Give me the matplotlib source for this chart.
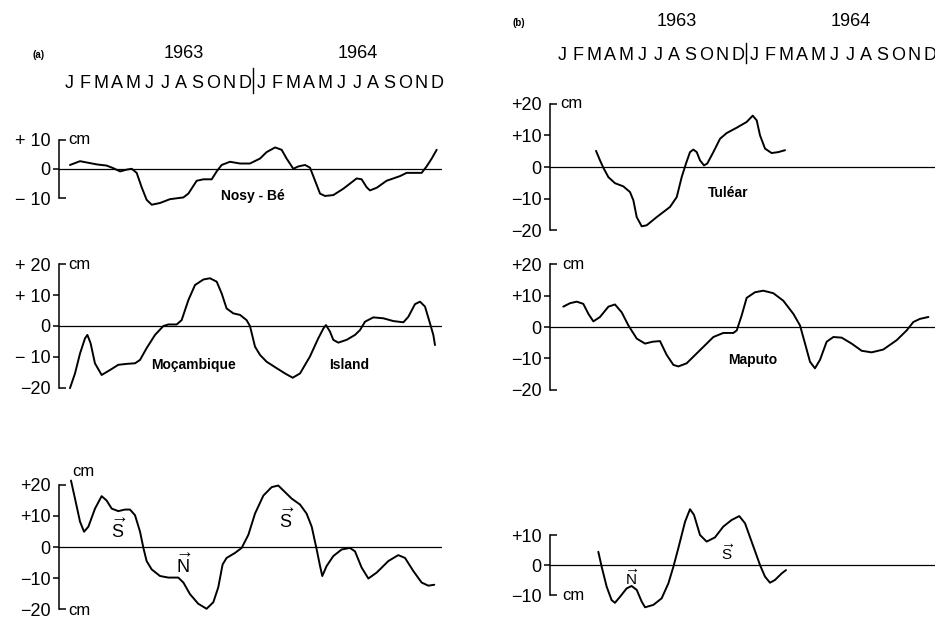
import matplotlib
matplotlib.use("Agg")
import matplotlib.pyplot as plt
from matplotlib.transforms import blended_transform_factory

plt.rcParams['font.family'] = ['Liberation Sans', 'DejaVu Sans']
plt.rcParams['mathtext.fontset'] = 'custom'
plt.rcParams['mathtext.rm'] = 'Liberation Sans'

W, H = 935, 621
PX = 16  # pixels per month on the page

months = ['J', 'F', 'M', 'A', 'M', 'J', 'J', 'A', 'S', 'O', 'N', 'D'] * 2
years = ['1963', '1964']

# time in months since mid Jan 1963, sea level anomaly in cm

# (a) Nosy-Be
nosy_t = [0.06, 0.69, 1.73, 2.35, 2.77, 3.19, 3.6, 3.92, 4.23, 4.54, 4.85, 5.17, 5.69, 6.31,
          7.15, 7.46, 7.98, 8.4, 8.92, 9.23, 9.54, 10.06, 10.69, 11.31, 11.94, 12.35, 12.88,
          13.29, 13.6, 14.02, 14.33, 14.75, 15.06, 15.38, 15.69, 16.0, 16.52, 17.15, 17.98,
          18.29, 18.6, 18.81, 19.23, 19.85, 20.69, 21.1, 21.73, 22.04, 22.35, 22.67, 22.98]
nosy_cm = [1.3, 2.6, 1.5, 1.1, 0.2, -0.9, -0.3, 0.0, -1.4, -6.3, -10.6, -12.3, -11.7, -10.4,
           -9.8, -8.5, -4.1, -3.6, -3.6, -0.9, 1.3, 2.4, 1.8, 1.8, 3.5, 5.7, 7.3,
           6.5, 3.5, 0.0, 0.8, 1.3, 0.4, -4.1, -8.5, -9.3, -9.0, -6.8, -3.3,
           -3.6, -6.3, -7.4, -6.5, -4.1, -2.5, -1.4, -1.4, -1.4, 0.8, 3.5, 6.5]

# (a) Mocambique Island
moz_t = [0.06, 0.375, 0.69, 1.0, 1.15, 1.35, 1.62, 2.04, 2.56, 3.08, 3.6, 4.13, 4.44, 4.85,
         5.375, 5.9, 6.21, 6.73, 7.04, 7.46, 7.875, 8.4, 8.81, 9.23, 9.54, 9.85, 10.27, 10.69,
         11.1, 11.31, 11.625, 11.94, 12.35, 12.98, 13.5, 13.98, 14.44, 15.06, 15.58, 15.9,
         16.06, 16.31, 16.52, 16.83, 17.35, 17.875, 18.19, 18.5, 19.02, 19.65, 20.27, 20.9,
         21.21, 21.625, 21.94, 22.25, 22.56, 22.77, 22.875]
moz_cm = [-20.2, -15.4, -8.9, -4.0, -2.9, -5.6, -12.1, -15.9, -14.3, -12.6, -12.3, -12.1, -11.0, -7.2,
          -2.9, 0.0, 0.5, 0.5, 1.9, 8.4, 13.3, 15.1, 15.5, 14.4, 10.6, 5.7, 4.1, 3.6,
          1.9, 0.0, -6.7, -9.4, -11.6, -13.7, -15.4, -16.8, -15.4, -9.9, -4.0, -0.8,
          0.3, -1.8, -4.5, -5.4, -4.5, -2.9, -1.3, 1.4, 2.8, 2.5, 1.6, 1.2,
          3.0, 7.1, 7.9, 6.3, 0.9, -2.9, -6.2]

# (a) difference
diff_a_t = [0.125, 0.375, 0.69, 0.94, 1.21, 1.625, 2.04, 2.35, 2.67, 3.08, 3.5, 3.81, 4.125, 4.44,
            4.65, 4.85, 5.17, 5.69, 6.21, 6.83, 7.15, 7.56, 8.08, 8.6, 9.02, 9.33, 9.6, 9.85,
            10.375, 10.79, 11.21, 11.625, 12.15, 12.67, 13.08, 13.5, 13.92, 14.44, 14.85, 15.17,
            15.48, 15.69, 15.83, 16.1, 16.52, 17.04, 17.56, 17.875, 18.29, 18.71, 19.23, 19.96,
            20.58, 21.0, 21.52, 22.04, 22.46, 22.83]
diff_a_cm = [21.3, 15.5, 8.1, 4.9, 6.5, 12.3, 16.3, 14.9, 12.3, 11.5, 12.0, 12.0, 10.2, 4.9,
             -0.3, -4.5, -7.2, -9.3, -9.8, -9.8, -11.4, -15.1, -18.2, -19.8, -17.7, -12.9, -5.6, -3.5,
             -1.9, -0.3, 3.9, 10.7, 16.5, 19.2, 19.7, 17.6, 15.5, 13.6, 10.7, 6.5,
             -0.8, -6.1, -9.3, -6.1, -2.9, -0.8, -0.3, -1.4, -6.6, -10.1, -8.2, -4.5,
             -2.6, -3.5, -7.7, -11.4, -12.4, -12.1]

# (b) Tulear
tul_t = [2.125, 2.375, 2.58, 2.9, 3.31, 3.83, 4.25, 4.46, 4.67, 4.98, 5.29, 5.92, 6.75, 7.17,
         7.48, 7.75, 8.0, 8.21, 8.42, 8.625, 8.875, 9.08, 9.46, 9.875, 10.29, 10.92, 11.54,
         11.92, 12.17, 12.375, 12.69, 13.1, 13.52, 13.94]
tul_cm = [5.1, 2.1, -0.2, -3.2, -5.1, -6.1, -7.9, -10.5, -15.8, -18.7, -18.4, -15.8, -12.6, -9.5,
          -3.2, 1.1, 4.7, 5.5, 4.7, 2.1, 0.5, 1.1, 4.7, 8.9, 10.7, 12.4, 14.2,
          16.2, 14.7, 10.0, 5.8, 4.4, 4.7, 5.3]

# (b) Maputo
map_t = [0.08, 0.5, 0.92, 1.33, 1.65, 1.96, 2.375, 2.9, 3.31, 3.73, 4.15, 4.67, 5.19, 5.67,
         6.125, 6.54, 6.96, 7.27, 7.79, 8.625, 9.46, 10.08, 10.71, 10.92, 11.23, 11.54, 12.06,
         12.58, 13.21, 13.83, 14.46, 14.875, 15.19, 15.5, 15.81, 16.125, 16.54, 16.96, 17.48,
         18.1, 18.73, 19.35, 20.08, 20.92, 21.54, 21.96, 22.375, 22.9]
map_cm = [6.5, 7.6, 8.1, 7.4, 4.2, 1.8, 3.2, 6.5, 7.2, 4.7, 0.5, -3.7, -5.3, -4.7,
          -4.5, -8.9, -12.1, -12.6, -11.6, -7.4, -3.2, -1.9, -1.9, -1.1, 3.7, 9.3, 11.1,
          11.6, 10.8, 8.4, 4.2, 0.5, -5.3, -11.1, -13.2, -10.5, -4.7, -3.2, -3.4,
          -5.3, -7.6, -8.1, -7.2, -4.2, -1.1, 1.6, 2.6, 3.2]

# (b) difference
diff_b_t = [2.27, 2.48, 2.79, 3.1, 3.31, 3.625, 4.04, 4.35, 4.67, 4.98, 5.19, 5.71, 6.23, 6.65,
            6.96, 7.27, 7.69, 8.0, 8.25, 8.625, 9.04, 9.56, 10.08, 10.6, 11.08, 11.44, 11.85,
            12.375, 12.69, 13.0, 13.31, 13.73, 14.0]
diff_b_cm = [4.4, -0.6, -7.2, -11.7, -12.6, -10.6, -7.8, -7.0, -8.3, -12.2, -14.1, -13.3, -11.1, -6.1,
             -0.6, 5.6, 14.4, 18.6, 16.7, 10.0, 7.8, 9.2, 12.8, 15.0, 16.3, 13.9, 7.8,
             0.0, -3.9, -5.9, -5.0, -2.8, -1.7]

fig = plt.figure(figsize=(W / 100, H / 100), dpi=100)
fig.patch.set_facecolor('white')


def panel(col, y0, ppc, ylo, yhi, xhi=23.3):
    # page layout: month centre of Jan 1963 at x0, y0 = pixel row of the zero line
    x0 = 69 if col == 0 else 562
    xlo = -0.625 if col == 0 else -0.75
    left = x0 + xlo * PX
    bottom = y0 - ylo * ppc
    ax = fig.add_axes([left / W, 1 - bottom / H, (xhi - xlo) * PX / W, (yhi - ylo) * ppc / H])
    ax.set_xlim(xlo, xhi)
    ax.set_ylim(ylo, yhi)
    ax.patch.set_alpha(0)
    for s in ['top', 'right', 'bottom']:
        ax.spines[s].set_visible(False)
    ax.set_xticks([])
    ax.axhline(0, color='k', lw=0.9)
    return ax


def yaxis(ax, mids, mid_labels, ends, end_labels):
    ax.spines['left'].set_bounds(min(ends), max(ends))
    ax.spines['left'].set_linewidth(1.1)
    ax.set_yticks(mids, mid_labels)
    ax.set_yticks(ends, end_labels, minor=True)
    ax.tick_params(axis='y', which='major', direction='out', length=4, width=1.1, pad=2, labelsize=13)
    ax.tick_params(axis='y', which='minor', direction='in', length=5, width=1.1, pad=6, labelsize=13)


def curve(ax, t, v):
    ax.plot(t, v, color='k', lw=1.4, solid_joinstyle='round', solid_capstyle='round', clip_on=False)


# ---- column (a)
a1 = panel(0, 167, 3.05, -14, 9)
yaxis(a1, [0], ['0'], [10, -10], ['+ 10', '\u2212 10'])
curve(a1, nosy_t, nosy_cm)
a1.text(-0.06, 10, 'cm', fontsize=12, va='center', ha='left')
a1.text(11.5, -9.2, 'Nosy - B\u00e9', fontsize=10, fontweight='bold', ha='center', va='center')

a2 = panel(0, 326, 3.08, -22, 20)
yaxis(a2, [10, 0, -10], ['+ 10', '0', '\u2212 10'], [20, -20], ['+ 20', '\u221220'])
curve(a2, moz_t, moz_cm)
a2.text(-0.06, 20, 'cm', fontsize=12, va='center', ha='left')
a2.text(7.8, -12.7, 'Mo\u00e7ambique', fontsize=10, fontweight='bold', ha='center', va='center')
a2.text(17.5, -12.7, 'Island', fontsize=10, fontweight='bold', ha='center', va='center')

a3 = panel(0, 547, 3.12, -22, 25)
yaxis(a3, [10, 0, -10], ['+10', '0', '\u221210'], [20, -20], ['+20', '\u221220'])
curve(a3, diff_a_t, diff_a_cm)
a3.text(0.19, 24.3, 'cm', fontsize=12, va='center', ha='left')
a3.text(-0.06, -20.3, 'cm', fontsize=12, va='center', ha='left')
a3.text(3.1, 2.8, r'$\overrightarrow{\mathrm{S}}$', fontsize=13, ha='center', va='baseline')
a3.text(7.2, -8.2, r'$\overrightarrow{\mathrm{N}}$', fontsize=13, ha='center', va='baseline')
a3.text(13.56, 6.0, r'$\overrightarrow{\mathrm{S}}$', fontsize=13, ha='center', va='baseline')

# ---- column (b)
b1 = panel(1, 167, 3.17, -22, 20)
yaxis(b1, [10, 0, -10], ['+10', '0', '\u221210'], [20, -20], ['+20', '\u221220'])
curve(b1, tul_t, tul_cm)
b1.text(-0.125, 20, 'cm', fontsize=12, va='center', ha='left')
b1.text(10.4, -8.2, 'Tul\u00e9ar', fontsize=10, fontweight='bold', ha='center', va='center')

b2 = panel(1, 327, 3.13, -22, 20)
yaxis(b2, [10, 0, -10], ['+10', '0', '\u221210'], [20, -20], ['+20', '\u221220'])
curve(b2, map_t, map_cm)
b2.text(0.0, 20, 'cm', fontsize=12, va='center', ha='left')
b2.text(11.9, -10.5, 'Maputo', fontsize=10, fontweight='bold', ha='center', va='center')

b3 = panel(1, 565, 3.0, -16, 20)
yaxis(b3, [0], ['0'], [10, -10], ['+10', '\u221210'])
curve(b3, diff_b_t, diff_b_cm)
b3.text(0.0, -10, 'cm', fontsize=12, va='center', ha='left')
b3.text(4.375, -6.7, r'$\overrightarrow{\mathrm{N}}$', fontsize=11, ha='center', va='baseline')
b3.text(10.3, 1.7, r'$\overrightarrow{\mathrm{S}}$', fontsize=11, ha='center', va='baseline')

# ---- month / year headers
year_pos = [7.2, 18.05]
headers = [(a1, 83, 54, '(a)', 39, 55, (68, 93)),
           (b1, 55, 22, '(b)', 519, 23, (43, 63))]
for ax, y_mon, y_year, tag, tag_x, tag_y, (d0, d1) in headers:
    tr = blended_transform_factory(ax.transData, fig.transFigure)
    for i, m in enumerate(months):
        ax.text(i, 1 - y_mon / H, m, transform=tr, ha='center', va='center', fontsize=13)
    for x, yr in zip(year_pos, years):
        ax.text(x, 1 - y_year / H, yr, transform=tr, ha='center', va='center', fontsize=13)
    split = len(months) / 2 - 0.5
    ax.plot([split, split], [1 - d0 / H, 1 - d1 / H], transform=tr, color='k', lw=1.0, clip_on=False)
    fig.text(tag_x / W, 1 - tag_y / H, tag, fontsize=7, fontweight='bold', ha='center', va='center')

fig.savefig('out.png', dpi=100)
